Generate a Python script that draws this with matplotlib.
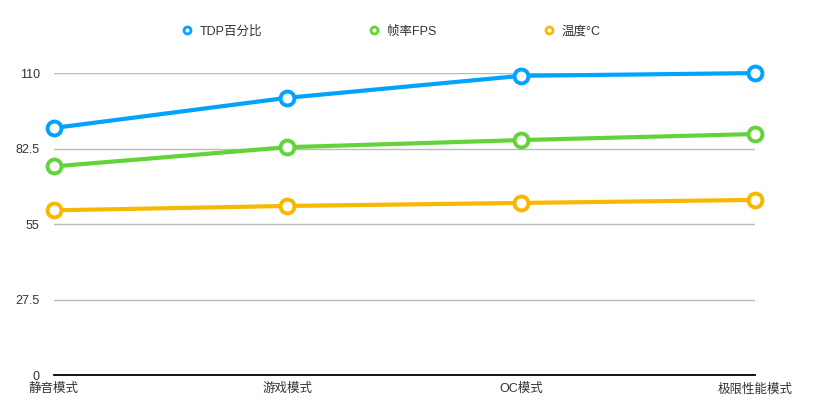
import matplotlib.pyplot as plt
from matplotlib.lines import Line2D

plt.rcParams['font.family'] = ['Liberation Sans', 'Noto Sans CJK SC', 'DejaVu Sans']

# Data
modes = ['静音模式', '游戏模式', 'OC模式', '极限性能模式']
tdp = [90, 101, 109, 110]
fps = [76, 83, 85.6, 87.8]
temp = [60, 61.6, 62.7, 63.8]
yticks = [0, 27.5, 55, 82.5, 110]

series = [
    ('TDP百分比', tdp, '#00a3ff'),
    ('帧率FPS', fps, '#62d43a'),
    ('温度°C', temp, '#f9b800'),
]

fig = plt.figure(figsize=(8.25, 4.2), dpi=100)
ax = fig.add_axes([0.065, 0.107, 0.85, 0.719])

x = range(len(modes))
for name, vals, color in series:
    ax.plot(x, vals, color=color, lw=3, marker='o', ms=10,
            mfc='white', mec=color, mew=2.8, clip_on=False, zorder=3)

ax.set_xlim(0, len(modes) - 1)
ax.set_ylim(0, 110)
ax.set_yticks(yticks)
ax.set_yticklabels(['0', '27.5', '55', '82.5', '110'])
ax.set_xticks(list(x))
ax.set_xticklabels(modes)
ax.tick_params(axis='y', length=0, pad=10, labelsize=9, colors='#333333')
ax.tick_params(axis='x', length=0, pad=6, labelsize=9, colors='#333333')
ax.grid(axis='y', color='#bbbbbb', lw=1)
ax.set_axisbelow(True)
for s in ['top', 'right', 'left']:
    ax.spines[s].set_visible(False)
ax.spines['bottom'].set_color('black')
ax.spines['bottom'].set_linewidth(1.3)
ax.spines['bottom'].set_zorder(4)

handles = [Line2D([], [], ls='none', marker='o', ms=5, mfc='white',
                  mec=c, mew=2) for _, _, c in series]
fig.legend(handles, [s[0] for s in series], loc='center',
           bbox_to_anchor=(0.474, 0.925), ncol=3, frameon=False,
           fontsize=9, handlelength=0.8, handletextpad=0.6,
           columnspacing=8.6, labelcolor='#333333')

fig.savefig('out.png', dpi=100)
